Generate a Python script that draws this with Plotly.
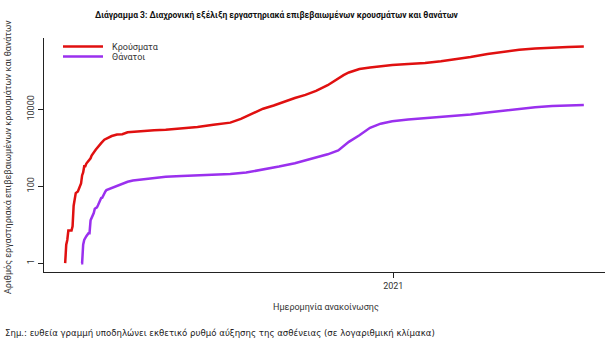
import plotly.graph_objects as go

case_dates = ["2020-02-26","2020-02-27","2020-02-28","2020-02-29","2020-03-03","2020-03-04","2020-03-05","2020-03-06",
              "2020-03-07","2020-03-09","2020-03-10","2020-03-11","2020-03-12","2020-03-13","2020-03-14","2020-03-15",
              "2020-03-16","2020-03-17","2020-03-18","2020-03-19","2020-03-20","2020-03-21","2020-03-22","2020-03-23",
              "2020-03-24","2020-03-25","2020-03-26","2020-03-27","2020-03-28","2020-03-29","2020-03-30","2020-03-31",
              "2020-04-03","2020-04-06","2020-04-10","2020-04-15","2020-04-20","2020-04-25","2020-04-30","2020-05-10",
              "2020-05-20","2020-05-31","2020-06-15","2020-06-30","2020-07-15","2020-07-31","2020-08-10","2020-08-20",
              "2020-08-31","2020-09-10","2020-09-20","2020-09-30","2020-10-10","2020-10-20","2020-10-31","2020-11-05",
              "2020-11-10","2020-11-15","2020-11-20","2020-11-25","2020-11-30","2020-12-10","2020-12-20","2020-12-31",
              "2021-01-15","2021-01-31","2021-02-15","2021-02-28","2021-03-15","2021-03-31","2021-04-15","2021-04-30",
              "2021-05-15","2021-05-31","2021-06-15","2021-06-30"]
case_values = [1, 3, 4, 7, 7, 9, 31, 45,
               66, 73, 89, 99, 117, 190, 228, 331,
               331, 387, 418, 464, 495, 530, 624, 695,
               743, 821, 892, 966, 1061, 1156, 1212, 1314,
               1613, 1755, 2011, 2192, 2245, 2506, 2591, 2710,
               2840, 2917, 3148, 3432, 3939, 4477, 5623, 7472,
               10317, 12452, 15928, 19500, 23500, 30000, 42000, 52000,
               64000, 77000, 90000, 101000, 111000, 122000, 132000, 141000,
               149000, 158000, 175000, 194000, 226000, 270000, 310000, 350000,
               376000, 405000, 416000, 428000]

death_dates = ["2020-03-12","2020-03-13","2020-03-14","2020-03-15","2020-03-17","2020-03-19","2020-03-20","2020-03-21",
               "2020-03-22","2020-03-23","2020-03-24","2020-03-25","2020-03-27","2020-03-28","2020-03-29","2020-03-30",
               "2020-03-31","2020-04-01","2020-04-02","2020-04-03","2020-04-04","2020-04-05","2020-04-07","2020-04-10",
               "2020-04-15","2020-04-20","2020-04-25","2020-04-30","2020-05-10","2020-05-20","2020-05-31","2020-06-15",
               "2020-06-30","2020-07-15","2020-07-31","2020-08-15","2020-08-31","2020-09-15","2020-09-30","2020-10-15",
               "2020-10-31","2020-11-10","2020-11-20","2020-11-30","2020-12-10","2020-12-20","2020-12-31","2021-01-15",
               "2021-01-31","2021-02-15","2021-02-28","2021-03-15","2021-03-31","2021-04-15","2021-04-30","2021-05-15",
               "2021-05-31","2021-06-15","2021-06-30"]
death_values = [1, 1, 3, 4, 5, 6, 6, 13,
                15, 17, 20, 26, 28, 32, 38, 43,
                49, 50, 59, 68, 73, 79, 83, 91,
                101, 116, 130, 140, 150, 166, 175, 183,
                192, 193, 206, 226, 266, 323, 393, 520,
                673, 851, 1419, 2102, 3289, 4204, 4838, 5434,
                5900, 6200, 6550, 7300, 8200, 9200, 10200, 11300,
                12100, 12500, 12800]

series_names = ["Κρούσματα", "Θάνατοι"]
series_colors = ["#E01010", "#9A30EE"]
y_tick_values = [1, 100, 10000]
y_tick_labels = ["1", "100", "10000"]
x_tick_values = ["2021-01-01"]
x_tick_labels = ["2021"]

title_text = "Διάγραμμα 3: Διαχρονική εξέλιξη εργαστηριακά επιβεβαιωμένων κρουσμάτων και θανάτων"
y_title = "Αριθμός εργαστηριακά επιβεβαιωμένων κρουσμάτων και θανάτων"
x_title = "Ημερομηνία ανακοίνωσης"
note_text = "Σημ.: ευθεία γραμμή υποδηλώνει εκθετικό ρυθμό αύξησης της ασθένειας (σε λογαριθμική κλίμακα)"

fig = go.Figure()
fig.add_trace(go.Scatter(x=case_dates, y=case_values, mode="lines", name=series_names[0],
                         line=dict(color=series_colors[0], width=2.5), showlegend=False))
fig.add_trace(go.Scatter(x=death_dates, y=death_values, mode="lines", name=series_names[1],
                         line=dict(color=series_colors[1], width=2.5), showlegend=False))

W, H = 613, 350
L, R, T, B = 44, 8, 38, 78
pw, ph = W - L - R, H - T - B

def px(x):
    return (x - L) / pw

def py(y):
    return (H - B - y) / ph

# manual legend
legend_rows = [46.5, 56.5]
shapes = []
annotations = []
for i, name in enumerate(series_names):
    shapes.append(dict(type="line", xref="paper", yref="paper",
                       x0=px(63), x1=px(103), y0=py(legend_rows[i]), y1=py(legend_rows[i]),
                       line=dict(color=series_colors[i], width=2.5)))
    annotations.append(dict(text=name, xref="paper", yref="paper", x=px(110), y=py(legend_rows[i]),
                            xanchor="left", yanchor="middle", showarrow=False,
                            font=dict(family="Roboto", size=9, color="#333333")))

annotations.append(dict(text="<b>" + title_text + "</b>", xref="paper", yref="paper",
                        x=px(277), y=py(16), xanchor="center", yanchor="middle", showarrow=False,
                        font=dict(family="Roboto", size=8.5, color="#111111")))
annotations.append(dict(text=y_title, xref="paper", yref="paper", x=px(8), y=py(157),
                        xanchor="center", yanchor="middle", showarrow=False, textangle=-90,
                        font=dict(family="Roboto", size=9, color="#333333")))
annotations.append(dict(text=x_title, xref="paper", yref="paper", x=px(326), y=py(307),
                        xanchor="center", yanchor="middle", showarrow=False,
                        font=dict(family="Roboto", size=9, color="#333333")))
annotations.append(dict(text=note_text, xref="paper", yref="paper", x=px(3), y=py(333),
                        xanchor="left", yanchor="middle", showarrow=False,
                        font=dict(family="DejaVu Sans", size=8.6, color="#222222")))

fig.update_layout(
    width=W, height=H,
    margin=dict(l=L, r=R, t=T, b=B, pad=0),
    paper_bgcolor="white", plot_bgcolor="white",
    shapes=shapes, annotations=annotations,
    showlegend=False,
)
fig.update_xaxes(type="date", range=["2020-02-06", "2021-07-20"],
                 tickvals=x_tick_values, ticktext=x_tick_labels,
                 showgrid=False, zeroline=False, showline=True, linecolor="#222222", linewidth=1,
                 ticks="outside", ticklen=5, tickcolor="#222222",
                 tickfont=dict(family="Roboto", size=9, color="#333333"))
fig.update_yaxes(type="log", range=[-0.23, 5.85],
                 tickvals=y_tick_values, ticktext=y_tick_labels, tickangle=-90,
                 showgrid=False, zeroline=False, showline=True, linecolor="#222222", linewidth=1,
                 ticks="outside", ticklen=5, tickcolor="#222222",
                 tickfont=dict(family="Roboto", size=9, color="#333333"))

fig.write_html("out.html")
